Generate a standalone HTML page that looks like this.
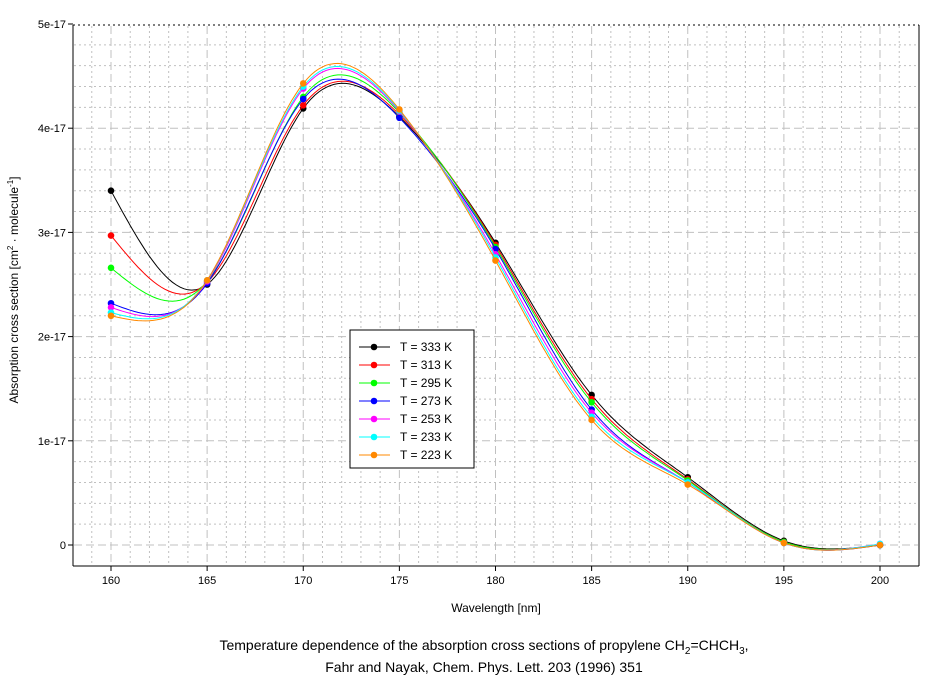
<!DOCTYPE html><html><head><style>body{margin:0;background:#fff}svg{font-family:"Liberation Sans",sans-serif}</style></head><body>
<svg id="s" width="944" height="681" xmlns="http://www.w3.org/2000/svg">
<g id="grid"></g>
<line x1="73" y1="25" x2="919" y2="25" stroke="#000" stroke-dasharray="2,3"/>
<line x1="73" y1="25" x2="73" y2="566" stroke="#000"/>
<line x1="73" y1="566" x2="919" y2="566" stroke="#000"/>
<line x1="919" y1="25" x2="919" y2="566" stroke="#000"/>
<g id="ticks" font-size="11"></g>
<g id="curves"></g>
<rect x="350" y="330" width="124" height="138" fill="#fff" stroke="#000"/>
<g id="leg" font-size="12"></g>
<text x="496" y="612" font-size="12" text-anchor="middle">Wavelength [nm]</text>
<text transform="translate(18,290) rotate(-90)" font-size="12" text-anchor="middle">Absorption cross section [cm<tspan font-size="8" dy="-5">2</tspan><tspan dy="5"> · molecule</tspan><tspan font-size="8" dy="-5">-1</tspan><tspan dy="5">]</tspan></text>
<text x="484" y="650" font-size="14" text-anchor="middle">Temperature dependence of the absorption cross sections of propylene CH<tspan font-size="10" dy="4">2</tspan><tspan dy="-4">=CHCH</tspan><tspan font-size="10" dy="4">3</tspan><tspan dy="-4">,</tspan></text>
<text x="484" y="672" font-size="14" text-anchor="middle">Fahr and Nayak, Chem. Phys. Lett. 203 (1996) 351</text>
</svg>
<script>
const NS="http://www.w3.org/2000/svg";
const X=w=>111+(w-160)*19.225, Y=v=>545-v*104.2;
function el(p,t,a,txt){const e=document.createElementNS(NS,t);for(const k in a)e.setAttribute(k,a[k]);if(txt!=null)e.textContent=txt;document.getElementById(p).appendChild(e);return e;}
for(let w=158;w<=202;w++){const x=X(w);if(x<=74||x>=918)continue;const maj=w%5==0;el("grid","line",{x1:x,y1:26,x2:x,y2:565,stroke:"#c0c0c0","stroke-dasharray":maj?"8,4":"2,3"});}
for(let i=-1;i<25;i++){const v=i*0.2,y=Y(v);if(y>=565||y<=26)continue;const maj=i%5==0;el("grid","line",{x1:74,y1:y,x2:918,y2:y,stroke:"#c0c0c0","stroke-dasharray":maj?"8,4":"2,3"});}
const yl=["0","1e-17","2e-17","3e-17","4e-17","5e-17"];
for(let i=0;i<=5;i++){const y=Y(i);el("ticks","line",{x1:68,y1:y,x2:73,y2:y,stroke:"#000"});el("ticks","text",{x:66,y:y+4,"text-anchor":"end"},yl[i]);}
for(let w=160;w<=200;w+=5){const x=X(w);el("ticks","line",{x1:x,y1:566,x2:x,y2:571,stroke:"#000"});el("ticks","text",{x:x,y:584,"text-anchor":"middle"},w);}
const S=[["#000","333",[3.40,2.50,4.19,4.11,2.90,1.44,0.65,0.04,0]],
["#f00","313",[2.97,2.52,4.22,4.13,2.88,1.40,0.63,0.03,0]],
["#0f0","295",[2.66,2.53,4.30,4.15,2.86,1.37,0.62,0.03,0]],
["#00f","273",[2.32,2.51,4.28,4.10,2.84,1.30,0.60,0.02,0]],
["#f0f","253",[2.28,2.53,4.38,4.16,2.79,1.27,0.60,0.02,0.01]],
["#0ff","233",[2.23,2.54,4.40,4.17,2.76,1.23,0.60,0.02,0.01]],
["#f80","223",[2.20,2.54,4.43,4.18,2.73,1.20,0.58,0.02,0.0]]];
function spline(y){const n=y.length,h=5,M=new Array(n).fill(0),a=[],b=[],c=[],d=[];
for(let i=1;i<n-1;i++){a[i]=1;b[i]=4;c[i]=1;d[i]=6*(y[i+1]-2*y[i]+y[i-1])/(h*h);}
for(let i=2;i<n-1;i++){const m=a[i]/b[i-1];b[i]-=m*c[i-1];d[i]-=m*d[i-1];}
for(let i=n-2;i>=1;i--){M[i]=(d[i]-(i<n-2?c[i]*M[i+1]:0))/b[i];}
return t=>{let i=Math.min(n-2,Math.floor(t/h));const u=t-i*h,v=h-u;return M[i]*v*v*v/(6*h)+M[i+1]*u*u*u/(6*h)+(y[i]/h-M[i]*h/6)*v+(y[i+1]/h-M[i+1]*h/6)*u;};}
S.forEach(([col,lab,ys],k)=>{const f=spline(ys);let d="";for(let t=0;t<=40;t+=0.2){d+=(t?"L":"M")+X(160+t).toFixed(1)+","+Y(f(t)).toFixed(1);}
el("curves","path",{d,fill:"none",stroke:col,"stroke-width":1});
ys.forEach((v,i)=>el("curves","circle",{cx:X(160+5*i),cy:Y(v),r:3.3,fill:col}));
const ly=347+k*18;el("leg","line",{x1:359,y1:ly,x2:390,y2:ly,stroke:col});el("leg","circle",{cx:374,cy:ly,r:3.3,fill:col});
el("leg","text",{x:400,y:ly+4},"T = "+lab+" K");});
</script></body></html>
